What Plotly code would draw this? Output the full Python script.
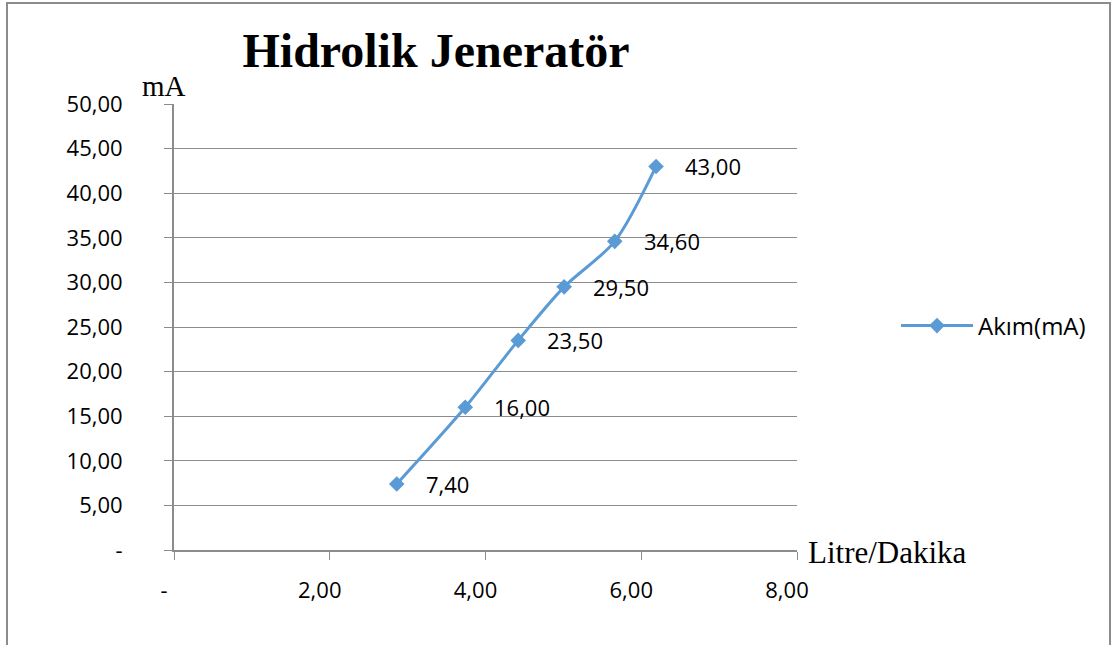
import plotly.graph_objects as go

# Flow rate (L/min) and current (mA)
flow = [2.86, 3.74, 4.42, 5.01, 5.66, 6.19]
current = [7.40, 16.00, 23.50, 29.50, 34.60, 43.00]

y_ticks = [0, 5, 10, 15, 20, 25, 30, 35, 40, 45, 50]
x_ticks = [0, 2, 4, 6, 8]


def fmt(v):
    return "-" if v == 0 else f"{v:.2f}".replace(".", ",")


LINE_BLUE = "#5B9BD5"
GRID = "#8C8C8C"
SERIF = "Liberation Serif"
SANS = "Open Sans"

# Plot area placement (pixels)
L, R, T, B = 174, 318, 104, 95
W, H = 1115, 645
pw, ph = W - L - R, H - T - B


def px_x(x):
    return (x - L) / pw


def px_y(y):
    return (H - B - y) / ph


fig = go.Figure()
fig.add_trace(go.Scatter(
    x=flow, y=current, name="Akım(mA)",
    mode="lines+markers",
    line=dict(color=LINE_BLUE, width=3, shape="spline", smoothing=0.8),
    marker=dict(symbol="diamond", size=12, color=LINE_BLUE),
))

for xv, yv in zip(flow, current):
    fig.add_annotation(x=xv, y=yv, text=fmt(yv), showarrow=False,
                       xanchor="left", yanchor="middle", xshift=27,
                       font=dict(family=SANS, size=22, color="#000"))

fig.update_layout(
    width=W, height=H,
    margin=dict(l=L, r=R, t=T, b=B),
    paper_bgcolor="white", plot_bgcolor="white",
    title=dict(text="<b>Hidrolik Jeneratör</b>", x=436 / W, xanchor="center",
               y=1 - 50 / H, yanchor="middle",
               font=dict(family=SERIF, size=48, color="#000")),
    showlegend=True,
    legend=dict(x=px_x(896), y=px_y(326), xanchor="left", yanchor="middle",
                itemwidth=72, font=dict(family=SANS, size=24, color="#000"),
                bgcolor="rgba(0,0,0,0)"),
    xaxis=dict(range=[0, 8], tickvals=x_ticks, ticktext=[fmt(v) for v in x_ticks],
               showgrid=False, zeroline=False, showline=True, linecolor=GRID,
               linewidth=2, ticks="outside", ticklen=8, tickcolor=GRID,
               tickfont=dict(family=SANS, size=22, color="#000"),
               ticklabelstandoff=12, ticklabelshift=-10),
    yaxis=dict(range=[0, 50], tickvals=y_ticks, ticktext=[fmt(v) for v in y_ticks],
               showgrid=True, gridcolor=GRID, gridwidth=1, zeroline=False,
               showline=True, linecolor=GRID, linewidth=2, ticks="outside",
               ticklen=8, tickcolor=GRID,
               tickfont=dict(family=SANS, size=22, color="#000"),
               ticklabelstandoff=37),
)

# Axis captions
fig.add_annotation(xref="paper", yref="paper", x=px_x(164), y=px_y(86),
                   text="mA", showarrow=False, xanchor="center", yanchor="middle",
                   font=dict(family=SERIF, size=29, color="#000"))
fig.add_annotation(xref="paper", yref="paper", x=px_x(806), y=px_y(552),
                   text="Litre/Dakika", showarrow=False, xanchor="left", yanchor="middle",
                   font=dict(family=SERIF, size=31, color="#000"))

# Chart frame
fig.add_shape(type="rect", xref="paper", yref="paper",
              x0=px_x(7), x1=px_x(1110), y0=px_y(3), y1=px_y(660),
              line=dict(color="#8C8C8C", width=2), layer="below")

fig.write_html("out.html")
